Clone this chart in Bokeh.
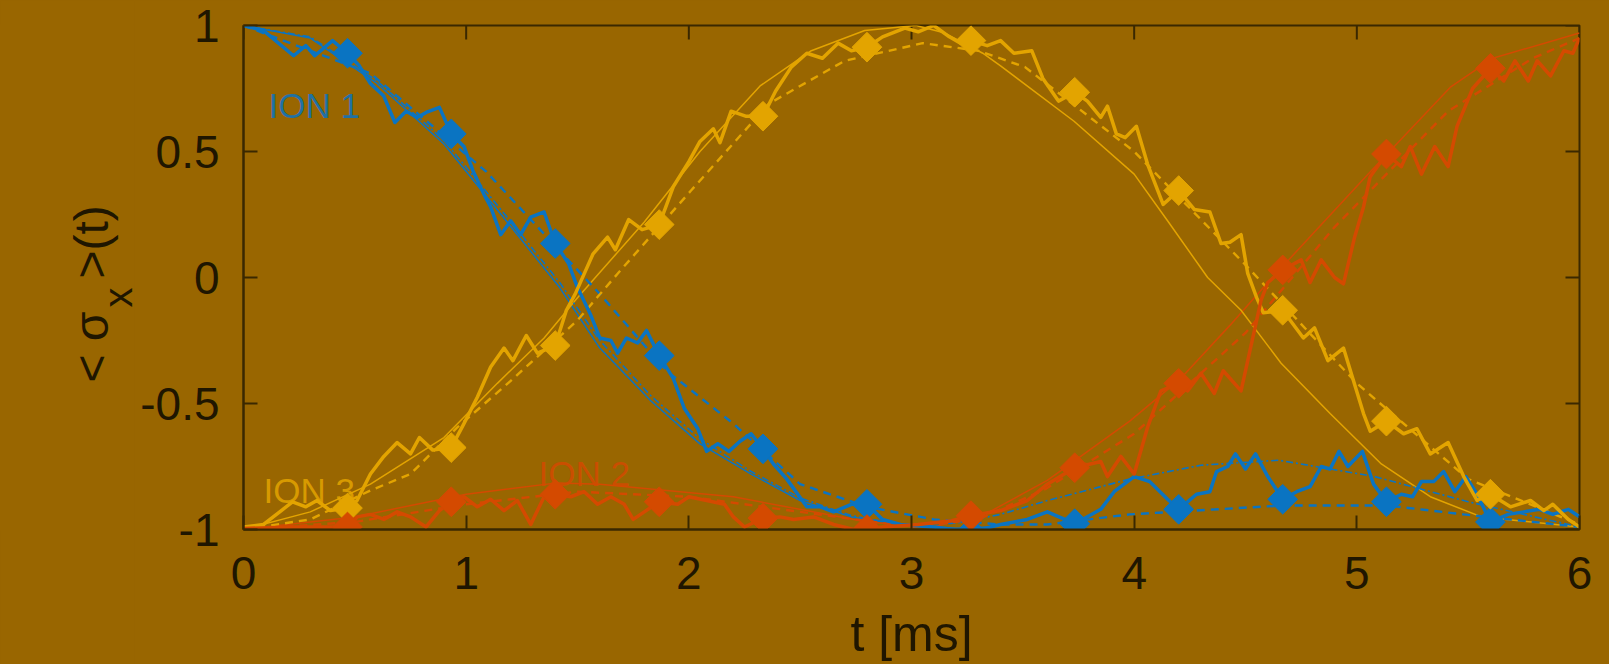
import math
from bokeh.plotting import figure
from bokeh.layouts import row
from bokeh.models import Range1d, FixedTicker
from bokeh.core.properties import value
from bokeh.embed import file_html
from bokeh.resources import INLINE

# ---------------- data ----------------
X_TICKS = [0, 1, 2, 3, 4, 5, 6]
X_TICK_LABELS = ["0", "1", "2", "3", "4", "5", "6"]
Y_TICKS = [-1, -0.5, 0, 0.5, 1]
Y_TICK_LABELS = ["-1", "-0.5", "0", "0.5", "1"]

MARKER_T = [0.467, 0.933, 1.4, 1.867, 2.333, 2.8, 3.267, 3.733, 4.2, 4.667, 5.133, 5.6]
ION1_MARKERS = [0.89, 0.57, 0.135, -0.31, -0.68, -0.90, -1.01, -0.977, -0.92, -0.88, -0.89, -0.97]
ION2_MARKERS = [-0.99, -0.89, -0.86, -0.89, -0.955, -1.0, -0.945, -0.755, -0.42, 0.03, 0.49, 0.83]
ION3_MARKERS = [-0.915, -0.675, -0.27, 0.21, 0.64, 0.914, 0.94, 0.735, 0.345, -0.13, -0.57, -0.86]

ION1_THICK = [(0, 1.0), (0.09, 0.98), (0.225, 0.88), (0.28, 0.92), (0.32, 0.88), (0.40, 0.94),
              (0.467, 0.89), (0.52, 0.84), (0.57, 0.77), (0.63, 0.72), (0.68, 0.615), (0.73, 0.66),
              (0.78, 0.635), (0.82, 0.655), (0.88, 0.675), (0.933, 0.57), (0.99, 0.52), (1.03, 0.425),
              (1.08, 0.33), (1.11, 0.28), (1.155, 0.17), (1.2, 0.225), (1.245, 0.17), (1.29, 0.24),
              (1.35, 0.26), (1.40, 0.135), (1.46, 0.055), (1.5, -0.04), (1.56, -0.15), (1.60, -0.24),
              (1.65, -0.25), (1.68, -0.30), (1.72, -0.24), (1.77, -0.26), (1.81, -0.21), (1.867, -0.31),
              (1.93, -0.40), (1.98, -0.52), (2.04, -0.60), (2.08, -0.69), (2.13, -0.66), (2.18, -0.69),
              (2.23, -0.65), (2.28, -0.62), (2.333, -0.68), (2.38, -0.74), (2.44, -0.80), (2.53, -0.91),
              (2.59, -0.91), (2.65, -0.93), (2.73, -0.90), (2.80, -0.90), (2.87, -0.96), (2.95, -0.98),
              (3.10, -0.99), (3.267, -1.01), (3.40, -0.98), (3.52, -0.96), (3.61, -0.93), (3.733, -0.977),
              (3.85, -0.92), (3.91, -0.85), (4.0, -0.79), (4.07, -0.81), (4.15, -0.88), (4.20, -0.92),
              (4.28, -0.86), (4.34, -0.85), (4.37, -0.77), (4.42, -0.75), (4.455, -0.70), (4.50, -0.76),
              (4.545, -0.70), (4.60, -0.79), (4.667, -0.88), (4.73, -0.85), (4.79, -0.83), (4.84, -0.75),
              (4.88, -0.76), (4.92, -0.69), (4.96, -0.75), (5.025, -0.69), (5.075, -0.82), (5.133, -0.89),
              (5.20, -0.86), (5.25, -0.87), (5.29, -0.81), (5.345, -0.81), (5.39, -0.77), (5.44, -0.85),
              (5.49, -0.79), (5.54, -0.86), (5.60, -0.97), (5.68, -0.94), (5.75, -0.93), (5.82, -0.92),
              (5.88, -0.94), (5.95, -0.92), (6.0, -0.95)]
ION1_THIN = [(0, 1.0), (0.3, 0.95), (0.6, 0.77), (0.9, 0.53), (1.23, 0.17), (1.42, -0.04), (1.6, -0.28),
             (1.83, -0.49), (2.05, -0.66), (2.28, -0.78), (2.5, -0.885), (2.73, -0.95), (2.95, -0.98),
             (3.2, -0.995), (3.35, -0.99)]
ION1_DASH = [(0, 1.0), (0.57, 0.81), (1.09, 0.42), (1.5, 0.03), (1.6, -0.065), (1.9, -0.37), (2.2, -0.58),
             (2.5, -0.82), (2.8, -0.91), (3.1, -0.96), (3.4, -0.98), (3.61, -0.98), (3.98, -0.94),
             (4.66, -0.905), (5.14, -0.905), (5.48, -0.94), (6.0, -0.99)]
ION1_DASHDOT = [(0, 1.0), (0.3, 0.955), (0.6, 0.78), (0.9, 0.545), (1.23, 0.19), (1.42, -0.02), (1.6, -0.25),
                (1.83, -0.47), (2.05, -0.64), (2.28, -0.77), (2.5, -0.875), (2.73, -0.945), (2.95, -0.98),
                (3.2, -0.975), (3.4, -0.94), (3.61, -0.885), (3.98, -0.80), (4.3, -0.745), (4.65, -0.725),
                (5.08, -0.79), (5.5, -0.89), (6.0, -0.99)]

ION2_THICK = [(0, -0.996), (0.22, -0.99), (0.40, -0.99), (0.467, -1.0), (0.51, -0.95), (0.57, -0.94),
              (0.63, -0.96), (0.69, -0.93), (0.75, -0.95), (0.82, -0.99), (0.88, -0.925), (0.933, -0.89),
              (0.99, -0.87), (1.05, -0.91), (1.11, -0.88), (1.17, -0.925), (1.23, -0.885), (1.29, -0.98),
              (1.35, -0.87), (1.40, -0.86), (1.47, -0.87), (1.53, -0.85), (1.59, -0.90), (1.65, -0.87),
              (1.71, -0.90), (1.75, -0.96), (1.80, -0.93), (1.867, -0.89), (1.95, -0.90), (2.0, -0.87),
              (2.08, -0.885), (2.16, -0.90), (2.2, -0.95), (2.25, -0.99), (2.333, -0.955), (2.41, -0.95),
              (2.47, -0.96), (2.56, -0.95), (2.65, -0.98), (2.74, -1.0), (2.80, -1.0), (2.87, -0.99),
              (3.03, -0.98), (3.18, -0.965), (3.267, -0.945), (3.40, -0.925), (3.52, -0.885), (3.61, -0.82),
              (3.733, -0.755), (3.85, -0.73), (3.88, -0.79), (3.94, -0.71), (4.0, -0.78), (4.06, -0.595),
              (4.12, -0.45), (4.20, -0.42), (4.24, -0.45), (4.30, -0.38), (4.36, -0.46), (4.40, -0.37),
              (4.48, -0.45), (4.52, -0.29), (4.57, -0.09), (4.60, -0.02), (4.667, 0.03), (4.75, 0.07),
              (4.79, -0.02), (4.84, 0.07), (4.90, 0.0), (4.94, -0.025), (4.99, 0.16), (5.03, 0.28),
              (5.06, 0.40), (5.133, 0.49), (5.20, 0.44), (5.24, 0.52), (5.29, 0.41), (5.35, 0.52),
              (5.41, 0.44), (5.45, 0.60), (5.52, 0.75), (5.60, 0.83), (5.66, 0.78), (5.71, 0.86),
              (5.77, 0.78), (5.81, 0.86), (5.87, 0.80), (5.93, 0.90), (5.97, 0.89), (6.0, 0.95)]
ION2_THIN = [(0, -1.0), (0.5, -0.95), (1.0, -0.86), (1.41, -0.815), (1.6, -0.82), (2.2, -0.87), (2.8, -0.97),
             (3.1, -0.99), (3.35, -0.93), (3.61, -0.805), (3.98, -0.57), (4.21, -0.40), (4.43, -0.19),
             (4.61, -0.01), (5.05, 0.41), (5.42, 0.755), (5.61, 0.87), (6.0, 0.97)]
ION2_DASH = [(0, -1.0), (0.5, -0.97), (1.0, -0.90), (1.5, -0.85), (2.0, -0.87), (2.5, -0.93), (3.0, -0.99),
             (3.3, -0.96), (3.6, -0.84), (4.0, -0.62), (4.5, -0.22), (4.9, 0.2), (5.41, 0.66), (5.79, 0.87),
             (6.0, 0.95)]

ION3_THICK = [(0, -0.99), (0.09, -0.98), (0.17, -0.925), (0.22, -0.89), (0.28, -0.91), (0.33, -0.885),
              (0.39, -0.925), (0.467, -0.915), (0.51, -0.885), (0.57, -0.78), (0.63, -0.71), (0.69, -0.655),
              (0.75, -0.70), (0.79, -0.635), (0.85, -0.685), (0.933, -0.675), (0.99, -0.58), (1.05, -0.475),
              (1.11, -0.355), (1.17, -0.28), (1.21, -0.33), (1.27, -0.23), (1.32, -0.30), (1.40, -0.27),
              (1.45, -0.13), (1.49, -0.065), (1.57, 0.094), (1.635, 0.16), (1.67, 0.11), (1.73, 0.23),
              (1.79, 0.19), (1.867, 0.21), (1.93, 0.36), (2.0, 0.46), (2.05, 0.54), (2.11, 0.59),
              (2.14, 0.535), (2.19, 0.66), (2.255, 0.64), (2.333, 0.64), (2.39, 0.74), (2.46, 0.835),
              (2.53, 0.89), (2.60, 0.87), (2.67, 0.93), (2.73, 0.90), (2.80, 0.914), (2.87, 0.955),
              (2.97, 0.99), (3.03, 0.975), (3.10, 1.0), (3.17, 0.955), (3.22, 0.93), (3.267, 0.94),
              (3.34, 0.92), (3.40, 0.94), (3.46, 0.89), (3.54, 0.90), (3.59, 0.79), (3.66, 0.70),
              (3.733, 0.735), (3.79, 0.70), (3.85, 0.635), (3.88, 0.68), (3.92, 0.57), (3.96, 0.555),
              (4.01, 0.60), (4.06, 0.45), (4.13, 0.29), (4.20, 0.345), (4.27, 0.27), (4.34, 0.26),
              (4.39, 0.135), (4.43, 0.14), (4.48, 0.17), (4.51, 0.016), (4.55, -0.08), (4.58, -0.14),
              (4.667, -0.13), (4.76, -0.24), (4.81, -0.20), (4.87, -0.33), (4.94, -0.28), (5.03, -0.54),
              (5.06, -0.61), (5.133, -0.57), (5.21, -0.62), (5.27, -0.60), (5.33, -0.70), (5.41, -0.655),
              (5.48, -0.79), (5.54, -0.885), (5.60, -0.86), (5.69, -0.91), (5.78, -0.885), (5.84, -0.925),
              (5.88, -0.90), (5.95, -0.96), (6.0, -0.99)]
ION3_THIN = [(0, -1.0), (0.3, -0.93), (0.57, -0.82), (0.9, -0.635), (1.14, -0.42), (1.35, -0.24), (1.5, -0.08),
             (1.8, 0.22), (2.05, 0.5), (2.32, 0.76), (2.55, 0.9), (2.79, 0.98), (3.02, 1.0), (3.15, 0.97),
             (3.32, 0.89), (3.4, 0.84), (3.73, 0.62), (4.0, 0.41), (4.15, 0.225), (4.33, 0.0), (4.48, -0.13),
             (4.66, -0.34), (4.88, -0.54), (5.11, -0.74), (5.33, -0.87), (5.56, -0.95), (6.0, -0.99)]
ION3_DASH = [(0, -1.0), (0.3, -0.96), (0.57, -0.845), (0.75, -0.78), (0.96, -0.595), (1.2, -0.41), (1.5, -0.17),
             (1.68, 0.015), (2.01, 0.345), (2.36, 0.69), (2.70, 0.86), (3.05, 0.93), (3.30, 0.90), (3.51, 0.835),
             (4.0, 0.5), (4.5, 0.05), (5.0, -0.42), (5.5, -0.8), (6.0, -0.98)]

LABELS = ["ION 1", "ION 2", "ION 3"]
LABEL_POS = [(0.112, 0.683), (1.325, -0.778), (0.09, -0.845)]
X_TITLE = "t [ms]"
Y_TITLE_PARTS = ["< σ", "x", ">(t)"]

# ---------------- styling / layout ----------------
BG = "#996600"
INK = "#1f1600"
FRAME = "#3a2800"
BLUE = "#0a74c2"
RED = "#d44a00"
YELLOW = "#e3a400"
FONT = "Liberation Sans"

W_TOTAL, H_TOTAL = 1609, 664
W_LABEL = 134                       # narrow panel holding the rotated y title
F_LEFT, F_TOP, F_RIGHT, F_BOTTOM = 243, 25, 1579, 529   # frame edges on the page
TICK_LEN = 14

p = figure(width=W_TOTAL - W_LABEL, height=H_TOTAL, x_range=Range1d(0, 6), y_range=Range1d(-1, 1),
           output_backend="svg", toolbar_location=None,
           min_border_left=F_LEFT - W_LABEL, min_border_right=W_TOTAL - F_RIGHT,
           min_border_top=F_TOP, min_border_bottom=H_TOTAL - F_BOTTOM,
           background_fill_color=BG, border_fill_color=BG,
           outline_line_color=FRAME, outline_line_width=2)
p.xgrid.visible = False
p.ygrid.visible = False


def style_axis(ax, ticks, labels, standoff):
    ax.ticker = FixedTicker(ticks=ticks)
    ax.major_label_overrides = {t: l for t, l in zip(ticks, labels)}
    ax.axis_line_color = FRAME
    ax.axis_line_width = 2
    ax.major_tick_line_color = FRAME
    ax.major_tick_line_width = 2
    ax.major_tick_in = TICK_LEN
    ax.major_tick_out = 0
    ax.minor_tick_line_color = None
    ax.major_label_text_font = FONT
    ax.major_label_text_color = INK
    ax.major_label_text_font_size = "46px"
    ax.major_label_standoff = standoff


style_axis(p.xaxis[0], X_TICKS, X_TICK_LABELS, 27)
style_axis(p.yaxis[0], Y_TICKS, Y_TICK_LABELS, 24)
p.xaxis[0].axis_label = X_TITLE
p.xaxis[0].axis_label_text_font = FONT
p.xaxis[0].axis_label_text_font_size = "50px"
p.xaxis[0].axis_label_text_font_style = "normal"
p.xaxis[0].axis_label_text_color = INK
p.xaxis[0].axis_label_standoff = 14

# inward ticks on the top and right frame edges (mirror of the bottom/left ticks)
dy = TICK_LEN * 2.0 / (F_BOTTOM - F_TOP)
dx = TICK_LEN * 6.0 / (F_RIGHT - F_LEFT)
p.segment(x0=X_TICKS, y0=[1] * len(X_TICKS), x1=X_TICKS, y1=[1 - dy] * len(X_TICKS),
          line_color=FRAME, line_width=2)
p.segment(x0=[6] * len(Y_TICKS), y0=Y_TICKS, x1=[6 - dx] * len(Y_TICKS), y1=Y_TICKS,
          line_color=FRAME, line_width=2)


def xs(pts):
    return [a for a, b in pts]


def ys(pts):
    return [b for a, b in pts]


# smooth curves
for pts, col in [(ION1_THIN, BLUE), (ION2_THIN, RED), (ION3_THIN, YELLOW)]:
    p.line(xs(pts), ys(pts), line_color=col, line_width=1.5)
p.line(xs(ION1_DASHDOT), ys(ION1_DASHDOT), line_color=BLUE, line_width=1.6, line_dash="7 3 2 3")
for pts, col in [(ION1_DASH, BLUE), (ION2_DASH, RED), (ION3_DASH, YELLOW)]:
    p.line(xs(pts), ys(pts), line_color=col, line_width=2.4, line_dash="8 6")

# noisy thick curves
for pts, col in [(ION1_THICK, BLUE), (ION3_THICK, YELLOW), (ION2_THICK, RED)]:
    p.line(xs(pts), ys(pts), line_color=col, line_width=3.5, line_join="round")

# diamond markers
for vals, col in [(ION1_MARKERS, BLUE), (ION3_MARKERS, YELLOW), (ION2_MARKERS, RED)]:
    p.scatter(MARKER_T, vals, marker="square", angle=math.pi / 4, size=21,
              fill_color=col, line_color=col, line_width=1)

# ion labels
p.text(x=[q[0] for q in LABEL_POS], y=[q[1] for q in LABEL_POS], text=LABELS,
       text_color=[BLUE, RED, YELLOW], text_alpha=0.85, text_font=value(FONT),
       text_font_size="35px", text_align="left", text_baseline="alphabetic")

# ---------------- left panel: rotated y title  < σ_x >(t) ----------------
# its frame lines up with the main frame; ranges are page pixels (x from left, y from bottom)
lab = figure(width=W_LABEL, height=H_TOTAL,
             x_range=Range1d(0, W_LABEL), y_range=Range1d(H_TOTAL - F_BOTTOM, H_TOTAL - F_TOP),
             output_backend="svg", toolbar_location=None,
             min_border_left=0, min_border_right=0, min_border_top=F_TOP, min_border_bottom=H_TOTAL - F_BOTTOM,
             background_fill_color=BG, border_fill_color=BG, outline_line_color=BG, outline_line_width=3)
lab.axis.visible = False
lab.xgrid.visible = False
lab.ygrid.visible = False
lab.text(x=[91, 117, 91], y=[H_TOTAL - 382, H_TOTAL - 307, H_TOTAL - 278], text=Y_TITLE_PARTS,
         angle=math.pi / 2, text_color=INK, text_font=value(FONT),
         text_font_size=["48px", "40px", "48px"], text_align="left", text_baseline="alphabetic")

layout = row(lab, p, spacing=0, styles={"background-color": BG})
open("out.html", "w").write(file_html(layout, INLINE))
